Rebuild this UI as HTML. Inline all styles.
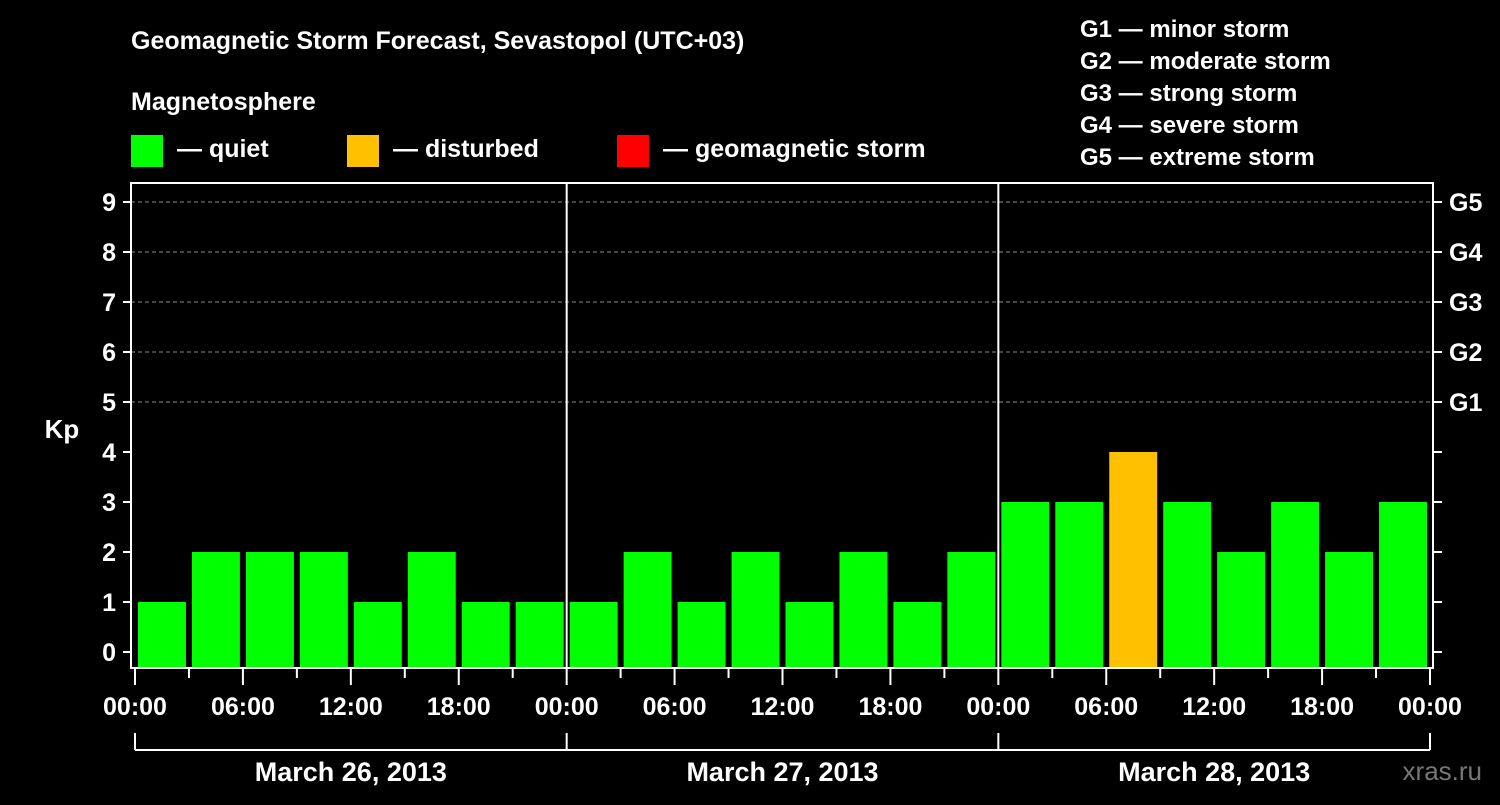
<!DOCTYPE html>
<html><head><meta charset="utf-8">
<style>
body{margin:0;background:#000;width:1500px;height:800px;overflow:hidden}
svg text{font-family:"Liberation Sans",sans-serif;font-weight:bold;fill:#fff}
</style></head><body>
<svg id="chart" width="1500" height="800" xmlns="http://www.w3.org/2000/svg">
<rect width="1500" height="800" fill="#000"/>
<text x="131" y="49" font-size="25">Geomagnetic Storm Forecast, Sevastopol (UTC+03)</text>
<text x="131" y="110" font-size="25">Magnetosphere</text>
<g><rect x="131" y="135" width="32" height="32" fill="#00ff00"/><text x="177" y="157" font-size="25">— quiet</text></g>
<g><rect x="347" y="135" width="32" height="32" fill="#ffc000"/><text x="393" y="157" font-size="25">— disturbed</text></g>
<g><rect x="617" y="135" width="32" height="32" fill="#ff0000"/><text x="663" y="157" font-size="25">— geomagnetic storm</text></g>
<g font-size="24">
<text x="1080" y="37">G1 — minor storm</text>
<text x="1080" y="69">G2 — moderate storm</text>
<text x="1080" y="101">G3 — strong storm</text>
<text x="1080" y="133">G4 — severe storm</text>
<text x="1080" y="165">G5 — extreme storm</text>
</g>
<text x="62" y="438" font-size="26" text-anchor="middle">Kp</text>
<text x="1482" y="1790" font-size="26" fill="#888" style="fill:#777;font-weight:normal" transform="translate(0,-1010)" text-anchor="end">xras.ru</text>
<g id="grid"></g><g id="bars"></g><g id="axes"></g>
</svg>
<script>
const kpValues=[1,2,2,2,1,2,1,1, 1,2,1,2,1,2,1,2, 3,3,4,3,2,3,2,3];
const yTicks=[0,1,2,3,4,5,6,7,8,9];
const gLabels=["G1","G2","G3","G4","G5"];
const timeLabels=["00:00","06:00","12:00","18:00","00:00","06:00","12:00","18:00","00:00","06:00","12:00","18:00","00:00"];
const dayLabels=["March 26, 2013","March 27, 2013","March 28, 2013"];
const NS="http://www.w3.org/2000/svg";
const X0=135,X1=1430,L=131,R=1433,T=183,B=668;
const xH=h=>X0+(X1-X0)*h/72;
const yV=v=>652-50*v;
function mk(p,tag,a){const e=document.createElementNS(NS,tag);for(const k in a)e.setAttribute(k,a[k]);p.appendChild(e);return e;}
const grid=document.getElementById('grid'),bars=document.getElementById('bars'),axes=document.getElementById('axes');
for(let v=5;v<=9;v++){const l=mk(grid,'line',{x1:L,x2:R,y1:yV(v),y2:yV(v),stroke:'#888','stroke-dasharray':'4,3','stroke-width':1});

}
kpValues.forEach((v,i)=>{const c=v>=5?'#ff0000':v>=4?'#ffc000':'#00ff00';
const x=xH(i*3)+3,w=xH(i*3+3)-xH(i*3)-6;
const r=mk(bars,'rect',{x:x,y:yV(v),width:w,height:B-yV(v),fill:c});

});
for(let d=1;d<3;d++){const l=mk(axes,'line',{x1:xH(d*24),x2:xH(d*24),y1:T,y2:B,stroke:'#fff','stroke-width':2});

}
const fr=mk(axes,'rect',{x:L,y:T,width:R-L,height:B-T,fill:'none',stroke:'#fff','stroke-width':2});


yTicks.forEach(v=>{mk(axes,'line',{x1:123,x2:L,y1:yV(v),y2:yV(v),stroke:'#fff','stroke-width':2});
mk(axes,'line',{x1:R,x2:1442,y1:yV(v),y2:yV(v),stroke:'#fff','stroke-width':2});
const t=mk(axes,'text',{x:116,y:yV(v)+9,'font-size':25,'text-anchor':'end'});t.textContent=v;

});
gLabels.forEach((g,i)=>{const t=mk(axes,'text',{x:1449,y:yV(5+i)+9,'font-size':25});t.textContent=g;

});
for(let h=0;h<=72;h+=3){const maj=h%6===0;mk(axes,'line',{x1:xH(h),x2:xH(h),y1:B,y2:maj?685:678,stroke:'#fff','stroke-width':2});}
timeLabels.forEach((s,i)=>{const t=mk(axes,'text',{x:xH(i*6),y:715,'font-size':25,'text-anchor':'middle'});t.textContent=s;

});
mk(axes,'line',{x1:X0,x2:X1,y1:750,y2:750,stroke:'#fff','stroke-width':2});
for(let d=0;d<=3;d++)mk(axes,'line',{x1:xH(d*24),x2:xH(d*24),y1:733,y2:750,stroke:'#fff','stroke-width':2});
dayLabels.forEach((s,i)=>{const t=mk(axes,'text',{x:xH(i*24+12),y:781,'font-size':27,'text-anchor':'middle'});t.textContent=s;

});
</script>
</body></html>
